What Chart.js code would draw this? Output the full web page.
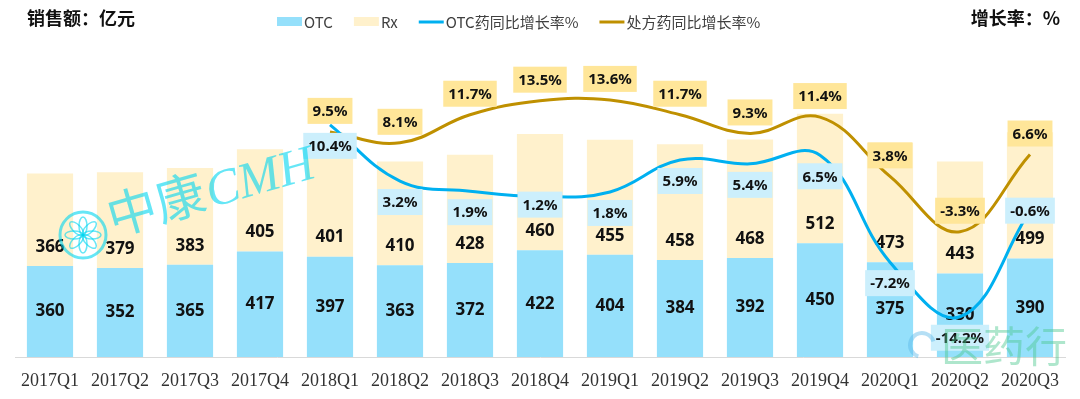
<!DOCTYPE html>
<html>
<head>
<meta charset="utf-8">
<script src="https://cdn.jsdelivr.net/npm/chart.js@4.4.1/dist/chart.umd.min.js"></script>
<style>
  html, body { margin: 0; padding: 0; background: #fff; }
  #wrap { width: 1080px; height: 399px; position: relative; }
</style>
</head>
<body>
<div id="wrap"><canvas id="salesChart"></canvas></div>
<script>
const quarters = ["2017Q1", "2017Q2", "2017Q3", "2017Q4", "2018Q1", "2018Q2", "2018Q3", "2018Q4",
                  "2019Q1", "2019Q2", "2019Q3", "2019Q4", "2020Q1", "2020Q2", "2020Q3"];
const otcSales = [360, 352, 365, 417, 397, 363, 372, 422, 404, 384, 392, 450, 375, 330, 390];
const rxSales = [366, 379, 383, 405, 401, 410, 428, 460, 455, 458, 468, 512, 473, 443, 499];
const otcGrowth = [null, null, null, null, 10.4, 3.2, 1.9, 1.2, 1.8, 5.9, 5.4, 6.5, -7.2, -14.2, -0.6];
const rxGrowth = [null, null, null, null, 9.5, 8.1, 11.7, 13.5, 13.6, 11.7, 9.3, 11.4, 3.8, -3.3, 6.6];

const OTC_BAR = "#95E0FB";
const RX_BAR = "#FFF1CC";
const OTC_LINE = "#00B0F0";
const RX_LINE = "#BF9000";

// labels for bars; bar 0 is the last bar dataset painted, lines come after it
const barLabels = {
  id: "barLabels",
  afterDatasetDraw(chart, args) {
    if (args.index !== 0) return;
    const ctx = chart.ctx;
    const otcMeta = chart.getDatasetMeta(0);
    ctx.save();
    ctx.font = 'bold 17px "Noto Sans", sans-serif';
    ctx.fillStyle = "#111";
    ctx.textAlign = "center";
    ctx.textBaseline = "middle";
    otcMeta.data.forEach(function (bar, i) {
      ctx.fillText(otcSales[i], bar.x, (bar.y + bar.base) / 2);
      ctx.fillText(rxSales[i], bar.x, bar.y - 19);
    });
    ctx.restore();
  }
};

// boxed percentage labels on the two growth lines
const growthLabels = {
  id: "growthLabels",
  afterDatasetsDraw(chart, args, opts) {
    const ctx = chart.ctx;
    ctx.save();
    ctx.font = 'bold 15px "Noto Sans", sans-serif';
    ctx.textAlign = "center";
    ctx.textBaseline = "middle";
    function box(text, x, y, bg) {
      const w = ctx.measureText(text).width + 10;
      ctx.fillStyle = bg;
      ctx.fillRect(x - w / 2, y - 13, w, 26);
      ctx.fillStyle = "#111";
      ctx.fillText(text, x, y + 1);
    }
    chart.getDatasetMeta(3).data.forEach(function (pt, i) {
      if (rxGrowth[i] === null) return;
      box(rxGrowth[i].toFixed(1) + "%", pt.x, pt.y - 21, "#FFE699");
    });
    chart.getDatasetMeta(2).data.forEach(function (pt, i) {
      if (otcGrowth[i] === null) return;
      const shift = opts.otcShift[i] !== undefined ? opts.otcShift[i] : 21;
      box(otcGrowth[i].toFixed(1) + "%", pt.x, pt.y + shift, "#CCEFFC");
    });
    ctx.restore();
  }
};

// titles, legend and watermarks
const decorations = {
  id: "decorations",
  afterDraw(chart) {
    const ctx = chart.ctx;
    ctx.save();
    ctx.fillStyle = "#111";
    ctx.textBaseline = "middle";
    ctx.font = 'bold 18px "Noto Sans CJK SC", sans-serif';
    ctx.textAlign = "left";
    ctx.fillText("销售额：亿元", 27, 18);
    ctx.textAlign = "right";
    ctx.fillText("增长率：%", 1060, 18);

    // legend
    ctx.textAlign = "left";
    ctx.font = '15px "Noto Sans CJK SC", sans-serif';
    let x = 277;
    const ly = 22;
    const items = [
      { text: "OTC", kind: "box", color: OTC_BAR },
      { text: "Rx", kind: "box", color: RX_BAR },
      { text: "OTC药同比增长率%", kind: "line", color: OTC_LINE },
      { text: "处方药同比增长率%", kind: "line", color: RX_LINE }
    ];
    items.forEach(function (it) {
      if (it.kind === "box") {
        ctx.fillStyle = it.color;
        ctx.fillRect(x, ly - 5, 25, 9);
      } else {
        ctx.strokeStyle = it.color;
        ctx.lineWidth = 3;
        ctx.beginPath();
        ctx.moveTo(x, ly);
        ctx.lineTo(x + 25, ly);
        ctx.stroke();
      }
      ctx.fillStyle = "#404040";
      ctx.fillText(it.text, x + 27, ly);
      x += 27 + ctx.measureText(it.text).width + 21;
    });

    // 中康 watermark
    ctx.globalAlpha = 0.6;
    ctx.strokeStyle = "#00D5F0";
    ctx.fillStyle = "#00D5F0";
    ctx.lineWidth = 3;
    ctx.beginPath();
    ctx.arc(83, 235, 23, 0, Math.PI * 2);
    ctx.stroke();
    ctx.lineWidth = 1.5;
    for (let k = 0; k < 8; k++) {
      ctx.save();
      ctx.translate(83, 235);
      ctx.rotate(k * Math.PI / 4);
      ctx.beginPath();
      ctx.ellipse(0, -9, 4, 9, 0, 0, Math.PI * 2);
      ctx.stroke();
      ctx.restore();
    }
    ctx.save();
    ctx.translate(113, 236);
    ctx.rotate(-0.28);
    ctx.font = '50px "Noto Sans CJK SC", sans-serif';
    ctx.textAlign = "left";
    ctx.textBaseline = "alphabetic";
    ctx.fillText("中康", 0, 0);
    ctx.font = 'italic 50px "Liberation Serif", serif';
    ctx.fillText("CMH", 102, 0);
    ctx.restore();

    // 医药行 watermark
    ctx.globalAlpha = 0.45;
    ctx.fillStyle = "#4CC88E";
    ctx.font = '42px "Noto Sans CJK SC", sans-serif';
    ctx.textAlign = "left";
    ctx.textBaseline = "alphabetic";
    ctx.fillText("医药行", 941, 362);
    ctx.strokeStyle = "#5BB8E8";
    ctx.lineWidth = 4;
    ctx.beginPath();
    ctx.arc(922, 345, 12, Math.PI * 0.6, Math.PI * 1.9);
    ctx.stroke();
    ctx.restore();
  }
};

new Chart(document.getElementById("salesChart"), {
  type: "bar",
  data: {
    labels: quarters,
    datasets: [
      { label: "OTC", data: otcSales, backgroundColor: OTC_BAR, stack: "sales", order: 1,
        categoryPercentage: 1, barPercentage: 0.66 },
      { label: "Rx", data: rxSales, backgroundColor: RX_BAR, stack: "sales", order: 1,
        categoryPercentage: 1, barPercentage: 0.66 },
      { type: "line", label: "OTC药同比增长率%", data: otcGrowth, yAxisID: "y1", order: 0,
        borderColor: OTC_LINE, borderWidth: 3, tension: 0.4, pointRadius: 0, fill: false },
      { type: "line", label: "处方药同比增长率%", data: rxGrowth, yAxisID: "y1", order: 0,
        borderColor: RX_LINE, borderWidth: 3, tension: 0.4, pointRadius: 0, fill: false }
    ]
  },
  options: {
    responsive: true,
    maintainAspectRatio: false,
    animation: false,
    layout: { padding: { top: 40, left: 15, right: 15, bottom: 8 } },
    plugins: {
      legend: { display: false },
      tooltip: { enabled: false },
      growthLabels: { otcShift: { 7: 8, 14: 0 } }
    },
    scales: {
      x: {
        stacked: true,
        grid: { display: false, drawTicks: false },
        border: { display: true, color: "#D9D9D9", width: 1 },
        ticks: { color: "#333", padding: 13, font: { family: '"Liberation Serif", serif', size: 18 } },
        afterFit: function (scale) { scale.height = 34; }
      },
      y: { stacked: true, display: false, min: 0, max: 1254 },
      y1: { display: false, min: -19.36, max: 21.28 }
    }
  },
  plugins: [barLabels, growthLabels, decorations]
});
</script>
</body>
</html>
